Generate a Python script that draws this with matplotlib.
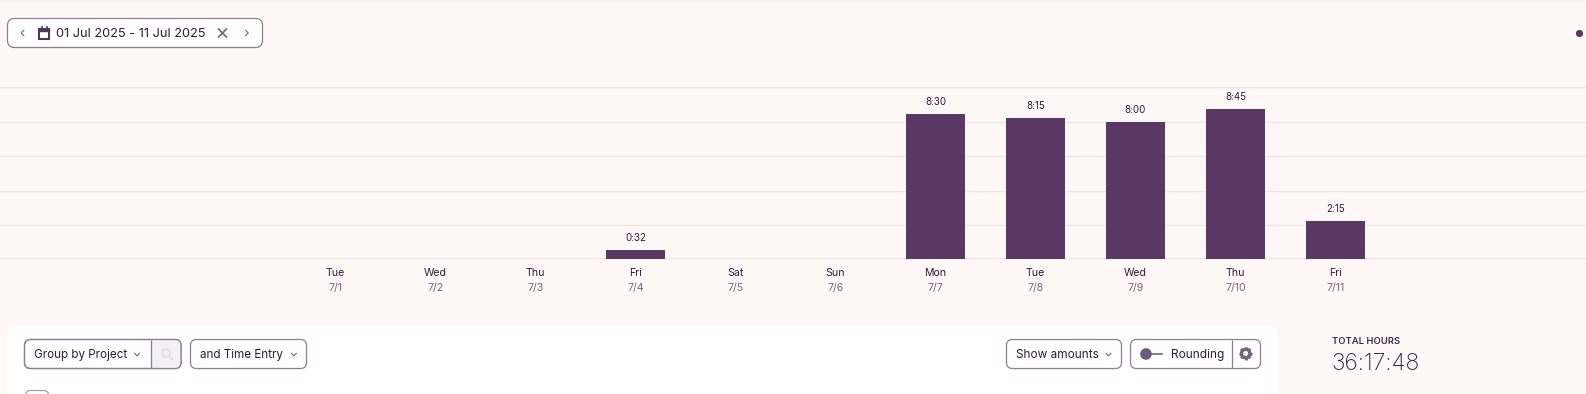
import matplotlib
matplotlib.use("Agg")
import math
import matplotlib.pyplot as plt
from matplotlib.patches import FancyBboxPatch, Circle, Rectangle

W, H = 1586, 394
BG = "#fff8f6"
BAR = "#5a3866"
GRID = "#eee6e8"
INK = "#2b1a3d"
MUTED = "#75647f"
BORDER = "#8f7d97"

weekdays = ["Tue", "Wed", "Thu", "Fri", "Sat", "Sun", "Mon", "Tue", "Wed", "Thu", "Fri"]
dates = ["7/1", "7/2", "7/3", "7/4", "7/5", "7/6", "7/7", "7/8", "7/9", "7/10", "7/11"]
hours = [0, 0, 0, 32 / 60, 0, 0, 8.5, 8.25, 8.0, 8.75, 2.25]
labels = ["", "", "", "0:32", "", "", "8:30", "8:15", "8:00", "8:45", "2:15"]
grid_hours = [0.03, 2.0, 4.0, 6.05, 8.04, 10.03]

plt.rcParams["font.family"] = ["Inter", "DejaVu Sans"]
fig = plt.figure(figsize=(W / 100, H / 100), dpi=100, facecolor=BG)

ui = fig.add_axes([0, 0, 1, 1], zorder=1)
ui.set_xlim(0, W)
ui.set_ylim(H, 0)
ui.axis("off")

# chart: day 0 centred at x=335.5, 100 px per day, baseline y=259, 17.1 px per hour
base, pxh = 259.0, 17.1
top = base - 10 * pxh
ax = fig.add_axes([0, 1 - base / H, 1, (base - top) / H], zorder=2)
ax.patch.set_alpha(0)
ax.set_xlim(-335.5 / 100, (W - 335.5) / 100)
ax.set_ylim(0, 10)
ax.axis("off")
for g in grid_hours:
    ax.plot([-4, 13], [g, g], color=GRID, lw=1, zorder=1, clip_on=False)
xs = list(range(len(hours)))
ax.bar(xs, hours, width=0.59, color=BAR, zorder=3)
for x, h, lab in zip(xs, hours, labels):
    if lab:
        ax.annotate(lab, (x, h), xytext=(0, 7), textcoords="offset pixels",
                    ha="center", va="bottom", fontsize=7, color=INK)
    else:
        for side in (-0.295, 0.295):
            ax.plot([x + side, x + side], [0, 0.08], color="#ece5e8", lw=0.7, zorder=2)
    ax.annotate(weekdays[x], (x, 0), xytext=(0, -14), textcoords="offset pixels",
                ha="center", va="center", fontsize=7.6, color=INK)
    ax.annotate(dates[x], (x, 0), xytext=(0, -29), textcoords="offset pixels",
                ha="center", va="center", fontsize=7.6, color=MUTED)


def box(x0, y0, x1, y1, r=6, fc="white", ec=BORDER, lw=0.9, z=2):
    p = FancyBboxPatch((x0 + r, y0 + r), x1 - x0 - 2 * r, y1 - y0 - 2 * r,
                       boxstyle=f"round,pad={r},rounding_size={r}",
                       fc=fc, ec=ec, lw=lw, zorder=z)
    ui.add_patch(p)
    return p


def chev_down(x, y, s=2.3, c=MUTED):
    ui.plot([x - s, x, x + s], [y - s / 2, y + s / 2 + 0.3, y - s / 2], color=c, lw=0.8, zorder=4)


def chev_h(x, y, d, s=2.6, c=MUTED):
    ui.plot([x - d * s / 2, x + d * s / 2, x - d * s / 2], [y - s, y, y + s], color=c, lw=0.8, zorder=4)


def gear(x, y, c=MUTED):
    ui.add_patch(Circle((x, y), 4.2, fc="none", ec=c, lw=2.4, zorder=4))
    for i in range(8):
        a = i * math.pi / 4
        ui.plot([x + 4.6 * math.cos(a), x + 6.6 * math.cos(a)],
                [y + 4.6 * math.sin(a), y + 6.6 * math.sin(a)],
                color=c, lw=2.0, solid_capstyle="butt", zorder=4)


ui.add_patch(Rectangle((0, 0), W, 1.5, fc="#fbf3f0", ec="none", zorder=1))

# date picker
box(7.5, 18.5, 262.5, 47.5, r=7)
chev_h(22.5, 33, -1)
ui.add_patch(Rectangle((39, 29), 10, 9.5, fc="white", ec="#4a3a58", lw=1.5, zorder=4))
ui.add_patch(Rectangle((39, 28.5), 10, 2.5, fc="#4a3a58", ec="#4a3a58", lw=1, zorder=4))
ui.plot([41.5, 41.5], [26.5, 29], color="#4a3a58", lw=1.2, zorder=4)
ui.plot([46.5, 46.5], [26.5, 29], color="#4a3a58", lw=1.2, zorder=4)
ui.text(56.5, 33.5, "01 Jul 2025 - 11 Jul 2025", fontsize=9.2, color=INK, va="center", ha="left", zorder=4)
ui.plot([218.5, 226.5], [29, 37], color=MUTED, lw=1.2, zorder=4)
ui.plot([218.5, 226.5], [37, 29], color=MUTED, lw=1.2, zorder=4)
chev_h(247, 33, 1)

ui.add_patch(Circle((1579.5, 33.5), 3.6, fc=BAR, ec="none", zorder=4))

# card
box(7, 326, 1278, 440, r=9, ec="none", lw=0, z=1)

# group by with search cell
outer = box(24.5, 339.5, 181, 368.5, r=6)
cell = Rectangle((150.5, 339), 31, 30, fc="#f3f1f4", ec="none", zorder=2.5)
ui.add_patch(cell)
cell.set_clip_path(outer)
box(24.5, 339.5, 181, 368.5, r=6, fc="none", z=3)
ui.plot([150.5, 150.5], [340, 368], color=BORDER, lw=0.9, solid_capstyle="butt", zorder=3)
ui.text(34, 355, "Group by Project", fontsize=8.4, color=INK, va="center", ha="left", zorder=4)
chev_down(137, 354.5)
ui.add_patch(Circle((166, 353), 4, fc="none", ec="#dfdce2", lw=1.2, zorder=4))
ui.plot([169, 172], [356, 359], color="#dfdce2", lw=1.3, zorder=4)

box(190.5, 339.5, 306.5, 368.5, r=6)
ui.text(200, 355, "and Time Entry", fontsize=8.4, color=INK, va="center", ha="left", zorder=4)
chev_down(294, 354.5)

box(1006.5, 339.5, 1121.5, 368.5, r=6)
ui.text(1016.5, 355, "Show amounts", fontsize=8.5, color=INK, va="center", ha="left", zorder=4)
chev_down(1108.5, 354.5)

box(1130.5, 339.5, 1260.5, 368.5, r=6)
ui.plot([1231.5, 1231.5], [340, 368], color=BORDER, lw=0.9, solid_capstyle="butt", zorder=3)
ui.plot([1146, 1162], [354, 354], color=MUTED, lw=1.2, zorder=4)
ui.add_patch(Circle((1146, 354), 5.8, fc="#6f5a7c", ec="none", zorder=5))
ui.text(1170.5, 355, "Rounding", fontsize=8.5, color=INK, va="center", ha="left", zorder=4)
gear(1245.7, 353.5)

# checkbox peeking at the bottom
box(25.5, 390.5, 48.5, 420, r=5, ec="#a99bb0", z=3)

# total
ui.text(1331.5, 341, "TOTAL HOURS", fontsize=6.8, color="#3b2a55", fontweight="semibold", va="center", ha="left", zorder=4)
ui.text(1331.5, 364.5, "36:17:48", fontsize=16.5, color="#2f2450", fontweight="light", va="center", ha="left", zorder=4)

fig.savefig("out.png", dpi=100, facecolor=BG)
